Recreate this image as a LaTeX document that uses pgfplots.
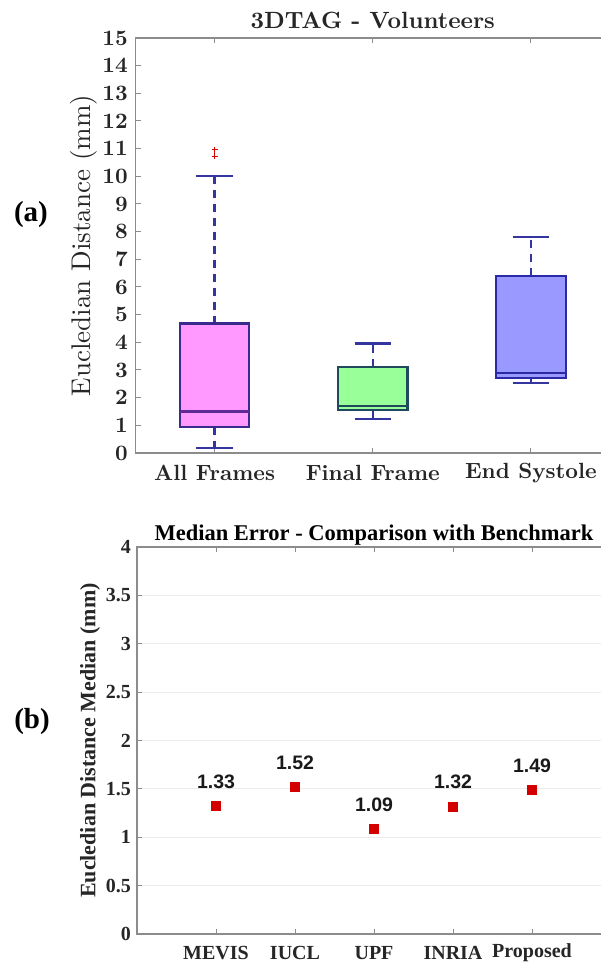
\documentclass[border=0pt]{standalone}
\usepackage{fontspec}
\usepackage{pgfplots}
\pgfplotsset{compat=1.18}
\usepgfplotslibrary{statistics}
\newfontfamily\timesfont{Liberation Serif}
\newfontfamily\arialfont{Liberation Sans}
\newfontfamily\lmbf{lmroman10-bold}[Extension=.otf]
\newfontfamily\lmrm{lmroman10-regular}[Extension=.otf]

\definecolor{boxA}{HTML}{FF99FF}
\definecolor{boxB}{HTML}{99FF99}
\definecolor{boxC}{HTML}{9999FF}
\definecolor{edgeA}{HTML}{3A2A8E}
\definecolor{edgeB}{HTML}{1F4A5E}
\definecolor{edgeC}{HTML}{2A2AA6}
\definecolor{whisk}{HTML}{3535A0}
\definecolor{medA}{HTML}{5E2A96}
\definecolor{axgray}{HTML}{8C8C8C}
\definecolor{gridgray}{HTML}{EBEBEB}
\definecolor{ptred}{HTML}{D40000}

% MATLAB-like boxplot: dashed whisker stems, solid caps
\pgfplotsset{
  matlabbox/.style={
    boxplot/draw direction=y,
    boxplot/every whisker/.style={draw=whisk, line width=2.2pt},
    boxplot/every box/.style={line width=2.2pt},
    boxplot/box extend=0.44,
    boxplot/whisker extend=0.23,
    boxplot/draw/lower whisker/.code={
      \draw[/pgfplots/boxplot/every whisker/.try, dash pattern=on 8pt off 6pt]
        (boxplot cs:\pgfplotsboxplotvalue{lower quartile}) --
        (boxplot cs:\pgfplotsboxplotvalue{lower whisker});
      \draw[/pgfplots/boxplot/every whisker/.try]
        (boxplot whisker cs:\pgfplotsboxplotvalue{lower whisker},0) --
        (boxplot whisker cs:\pgfplotsboxplotvalue{lower whisker},1);
    },
    boxplot/draw/upper whisker/.code={
      \draw[/pgfplots/boxplot/every whisker/.try, dash pattern=on 8pt off 6pt]
        (boxplot cs:\pgfplotsboxplotvalue{upper quartile}) --
        (boxplot cs:\pgfplotsboxplotvalue{upper whisker});
      \draw[/pgfplots/boxplot/every whisker/.try]
        (boxplot whisker cs:\pgfplotsboxplotvalue{upper whisker},0) --
        (boxplot whisker cs:\pgfplotsboxplotvalue{upper whisker},1);
    },
  },
}

\begin{document}
\begin{tikzpicture}
\path[use as bounding box] (0pt,0pt) rectangle (601pt,970pt);
\clip (0pt,0pt) rectangle (601pt,970pt);

% ---------------- (a) box plots ----------------
\begin{axis}[
  at={(135.5pt,517pt)}, anchor=south west,
  scale only axis, width=474.5pt, height=415pt,
  xmin=0.5, xmax=3.5, ymin=0, ymax=15,
  xtick={1,2,3}, xticklabels={All Frames, Final Frame, End Systole},
  ytick={0,1,...,15},
  tick align=inside, major tick length=5pt,
  axis line style={axgray, line width=1.2pt},
  tick style={axgray, line width=1pt},
  /pgf/number format/assume math mode=true,
  ticklabel style={font=\lmbf\fontsize{22}{26}\selectfont, text=black!85},
  xticklabel style={anchor=center, yshift=-20pt},
  yticklabel style={anchor=east, inner sep=0pt, xshift=-7.5pt},
  title={3DTAG - Volunteers},
  title style={font=\lmbf\fontsize{23.5}{28}\selectfont, text=black!85,
    at={(axis description cs:0.5,1)}, anchor=center, yshift=12pt},
  ylabel={Eucledian Distance (mm)},
  ylabel style={font=\lmrm\fontsize{27}{32}\selectfont, text=black!85,
    at={(axis description cs:-0.1085,0.5)}, anchor=center},
]
\addplot[matlabbox, draw=edgeA, fill=boxA, line width=2.2pt,
  boxplot/every median/.style={draw=medA, line width=2.2pt},
  mark=+, mark size=3pt, mark options={draw=red!85!black, line width=1pt},
  boxplot prepared={draw position=1, median=1.50, lower quartile=0.93,
    upper quartile=4.68, lower whisker=0.18, upper whisker=10.0}]
  table[row sep=\\, y index=0] {data\\ 10.96\\ 10.73\\};
\addplot[matlabbox, draw=edgeB, fill=boxB, line width=2.2pt,
  boxplot/every median/.style={draw=edgeB, line width=2.2pt},
  boxplot prepared={draw position=2, median=1.70, lower quartile=1.56,
    upper quartile=3.11, lower whisker=1.23, upper whisker=3.96}]
  coordinates {};
\addplot[matlabbox, draw=edgeC, fill=boxC, line width=2.2pt,
  boxplot/every median/.style={draw=edgeC, line width=2.2pt},
  boxplot prepared={draw position=3, median=2.88, lower quartile=2.71,
    upper quartile=6.39, lower whisker=2.54, upper whisker=7.82}]
  coordinates {};
\end{axis}

% ---------------- (b) median error ----------------
\begin{axis}[
  at={(137pt,36pt)}, anchor=south west,
  scale only axis, width=474pt, height=387pt,
  xmin=0, xmax=6, ymin=0, ymax=4,
  xtick={1,...,5}, xticklabels={MEVIS,IUCL,UPF,INRIA,Proposed},
  ytick={0,0.5,...,4},
  ymajorgrids, grid style={gridgray, line width=0.8pt},
  tick align=inside, major tick length=5pt,
  axis line style={axgray, line width=1.2pt},
  tick style={axgray, line width=1pt},
  /pgf/number format/assume math mode=true,
  ticklabel style={font=\timesfont\bfseries\fontsize{20}{24}\selectfont, text=black!85},
  xticklabel style={anchor=center, yshift=-19pt},
  yticklabel style={anchor=east, inner sep=0pt, xshift=-6pt, /pgf/number format/fixed},
  title={Median Error - Comparison with Benchmark},
  title style={font=\timesfont\bfseries\fontsize{22.5}{27}\selectfont, text=black,
    at={(axis description cs:0.5,1)}, anchor=center, yshift=6pt},
  ylabel={Eucledian Distance Median (mm)},
  ylabel style={font=\timesfont\bfseries\fontsize{22}{26}\selectfont, text=black!85,
    at={(axis description cs:-0.0992,0.5)}, anchor=center},
]
\addplot[only marks, mark=square*, mark size=4.5pt, color=ptred,
  point meta=y,
  nodes near coords={\pgfmathprintnumber[fixed,fixed zerofill,precision=2]{\pgfplotspointmeta}},
  nodes near coords style={font=\arialfont\bfseries\fontsize{19.5}{23}\selectfont,
    text=black!90, anchor=center, yshift=24pt}]
  coordinates {(1,1.33) (2,1.52) (3,1.09) (4,1.32) (5,1.49)};
\end{axis}

\node[font=\timesfont\bfseries\fontsize{29}{34}\selectfont] at (31pt,755pt) {(a)};
\node[font=\timesfont\bfseries\fontsize{29}{34}\selectfont] at (32pt,248pt) {(b)};
\end{tikzpicture}
\end{document}
